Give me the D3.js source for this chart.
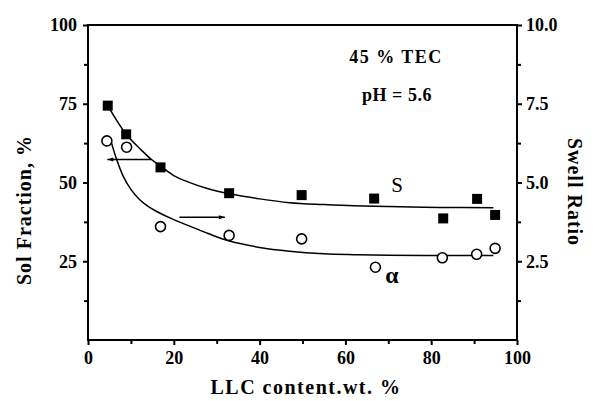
<!DOCTYPE html>
<html><head><meta charset="utf-8">
<script src="https://cdn.jsdelivr.net/npm/d3@7"></script>
<style>
body{margin:0;background:#fff;}
svg text{font-family:"Liberation Serif","Times New Roman","DejaVu Serif",serif;}
</style></head>
<body><svg id="c" width="593" height="401"></svg>
<script>
// Data
const llcS = [4.6, 8.9, 16.9, 32.9, 49.8, 66.7, 82.8, 90.7, 94.9];
const solFraction = [74.4, 65.3, 54.8, 46.6, 46.0, 44.9, 38.6, 44.8, 39.7];
const llcA = [4.4, 9.0, 16.9, 32.9, 49.8, 67.0, 82.6, 90.6, 94.9];
const swellRatio = [6.32, 6.12, 3.60, 3.32, 3.21, 2.31, 2.61, 2.72, 2.91];
// fitted curves
const fitSx = [4.6, 8.9, 12.5, 14.8, 16.9, 20, 23.3, 28, 33, 40, 47, 55, 62, 70, 82, 94.5];
const fitSy = [74.4, 65.3, 60.2, 57.3, 55.2, 52.2, 50.2, 48.0, 46.4, 44.8, 43.6, 43.0, 42.6, 42.4, 42.1, 42.0];
const fitAx = [5.5, 6.5, 8.2, 10, 12, 14, 16, 20, 24, 28, 33, 40, 47, 55, 62, 70, 82, 94.5];
const fitAy = [6.25, 5.80, 5.20, 4.78, 4.46, 4.24, 4.08, 3.82, 3.60, 3.38, 3.14, 2.94, 2.82, 2.74, 2.71, 2.69, 2.68, 2.68];
const xTicks = [0, 20, 40, 60, 80, 100];
const yLeftTicks = [25, 50, 75, 100];
const yRightTicks = [2.5, 5.0, 7.5, 10.0];

const svg = d3.select("#c");
const L = 88, R = 517, T = 25, B = 340;
const x = d3.scaleLinear().domain([0, 100]).range([L, R]);
const yL = d3.scaleLinear().domain([0, 100]).range([B, T]);
const yR = d3.scaleLinear().domain([0, 10]).range([B, T]);

const FF = "'Liberation Serif','Times New Roman','DejaVu Serif',serif";

// frame
svg.append("rect").attr("x", L).attr("y", T).attr("width", R - L).attr("height", B - T)
  .attr("fill", "none").attr("stroke", "#000").attr("stroke-width", 2);

function styleAxis(g) {
  g.select(".domain").remove();
  g.attr("font-family", FF).attr("font-size", 18).attr("font-weight", "bold");
  g.selectAll("line").attr("stroke", "#000").attr("stroke-width", 2);
  g.selectAll("text").attr("fill", "#000");
}

// bottom axis
const gx = svg.append("g").attr("transform", `translate(0,${B})`)
  .call(d3.axisBottom(x).tickValues(xTicks).tickSize(5).tickPadding(6).tickFormat(d3.format("d")));
styleAxis(gx);
const gxm = svg.append("g").attr("transform", `translate(0,${B})`)
  .call(d3.axisBottom(x).tickValues([10, 30, 50, 70, 90]).tickSize(4).tickFormat(""));
styleAxis(gxm);

// left axis
const gy = svg.append("g").attr("transform", `translate(${L},0)`)
  .call(d3.axisLeft(yL).tickValues(yLeftTicks).tickSize(5).tickPadding(6).tickFormat(d3.format("d")));
styleAxis(gy);
const gym = svg.append("g").attr("transform", `translate(${L},0)`)
  .call(d3.axisLeft(yL).tickValues([12.5, 37.5, 62.5, 87.5]).tickSize(4).tickFormat(""));
styleAxis(gym);

// right axis
const gr = svg.append("g").attr("transform", `translate(${R},0)`)
  .call(d3.axisRight(yR).tickValues(yRightTicks).tickSize(5).tickPadding(4).tickFormat(d3.format(".1f")));
styleAxis(gr);
const grm = svg.append("g").attr("transform", `translate(${R},0)`)
  .call(d3.axisRight(yR).tickValues([1.25, 3.75, 6.25, 8.75]).tickSize(4).tickFormat(""));
styleAxis(grm);

// fitted curves
const lineS = d3.line().x(d => x(d[0])).y(d => yL(d[1])).curve(d3.curveCatmullRom);
const lineA = d3.line().x(d => x(d[0])).y(d => yR(d[1])).curve(d3.curveCatmullRom);
svg.append("path").attr("d", lineS(fitSx.map((v, i) => [v, fitSy[i]])))
  .attr("fill", "none").attr("stroke", "#000").attr("stroke-width", 1.5);
svg.append("path").attr("d", lineA(fitAx.map((v, i) => [v, fitAy[i]])))
  .attr("fill", "none").attr("stroke", "#000").attr("stroke-width", 1.5);

// markers
svg.selectAll("rect.sq").data(llcS.map((v, i) => [v, solFraction[i]])).enter().append("rect")
  .attr("class", "sq").attr("x", d => x(d[0]) - 5).attr("y", d => yL(d[1]) - 5)
  .attr("width", 10).attr("height", 10).attr("fill", "#000");
svg.selectAll("circle.ci").data(llcA.map((v, i) => [v, swellRatio[i]])).enter().append("circle")
  .attr("class", "ci").attr("cx", d => x(d[0])).attr("cy", d => yR(d[1])).attr("r", 5)
  .attr("fill", "#fff").attr("stroke", "#000").attr("stroke-width", 1.6);

// arrows
function arrow(x1, x2, yv, dir) {
  svg.append("line").attr("x1", x(x1)).attr("x2", x(x2)).attr("y1", yL(yv)).attr("y2", yL(yv))
    .attr("stroke", "#000").attr("stroke-width", 1.5);
  const tip = dir < 0 ? x(x1) : x(x2);
  const yy = yL(yv);
  svg.append("path").attr("d", `M${tip},${yy} L${tip - dir * 6},${yy - 2} L${tip - dir * 6},${yy + 2} Z`)
    .attr("fill", "#000");
}
arrow(4.5, 14.8, 57.3, -1);
arrow(21.3, 31.9, 39.0, 1);

// annotations
function label(tx, ty, txt, size, weight, extra) {
  const t = svg.append("text").attr("x", tx).attr("y", ty).attr("text-anchor", "middle")
    .attr("font-family", FF).attr("font-size", size).attr("font-weight", weight).attr("fill", "#000").text(txt);
  if (extra) t.attr("letter-spacing", extra);
  return t;
}
label(396, 63, "45 % TEC", 18, "bold", "1.5");
label(397, 101, "pH = 5.6", 18, "bold", "0.5");
label(397, 192, "S", 21, "normal");
label(392, 283, "α", 24, "bold");

// axis titles
label(306, 394, "LLC content.wt. %", 20, "bold", "1.5");
svg.append("text").attr("transform", "translate(31,210) rotate(-90)").attr("text-anchor", "middle")
  .attr("font-family", FF).attr("font-size", 20).attr("font-weight", "bold").attr("letter-spacing", "1")
  .text("Sol Fraction, %");
svg.append("text").attr("transform", "translate(568,192) rotate(90)").attr("text-anchor", "middle")
  .attr("font-family", FF).attr("font-size", 20).attr("font-weight", "bold").attr("letter-spacing", "1")
  .text("Swell Ratio");
</script></body></html>
